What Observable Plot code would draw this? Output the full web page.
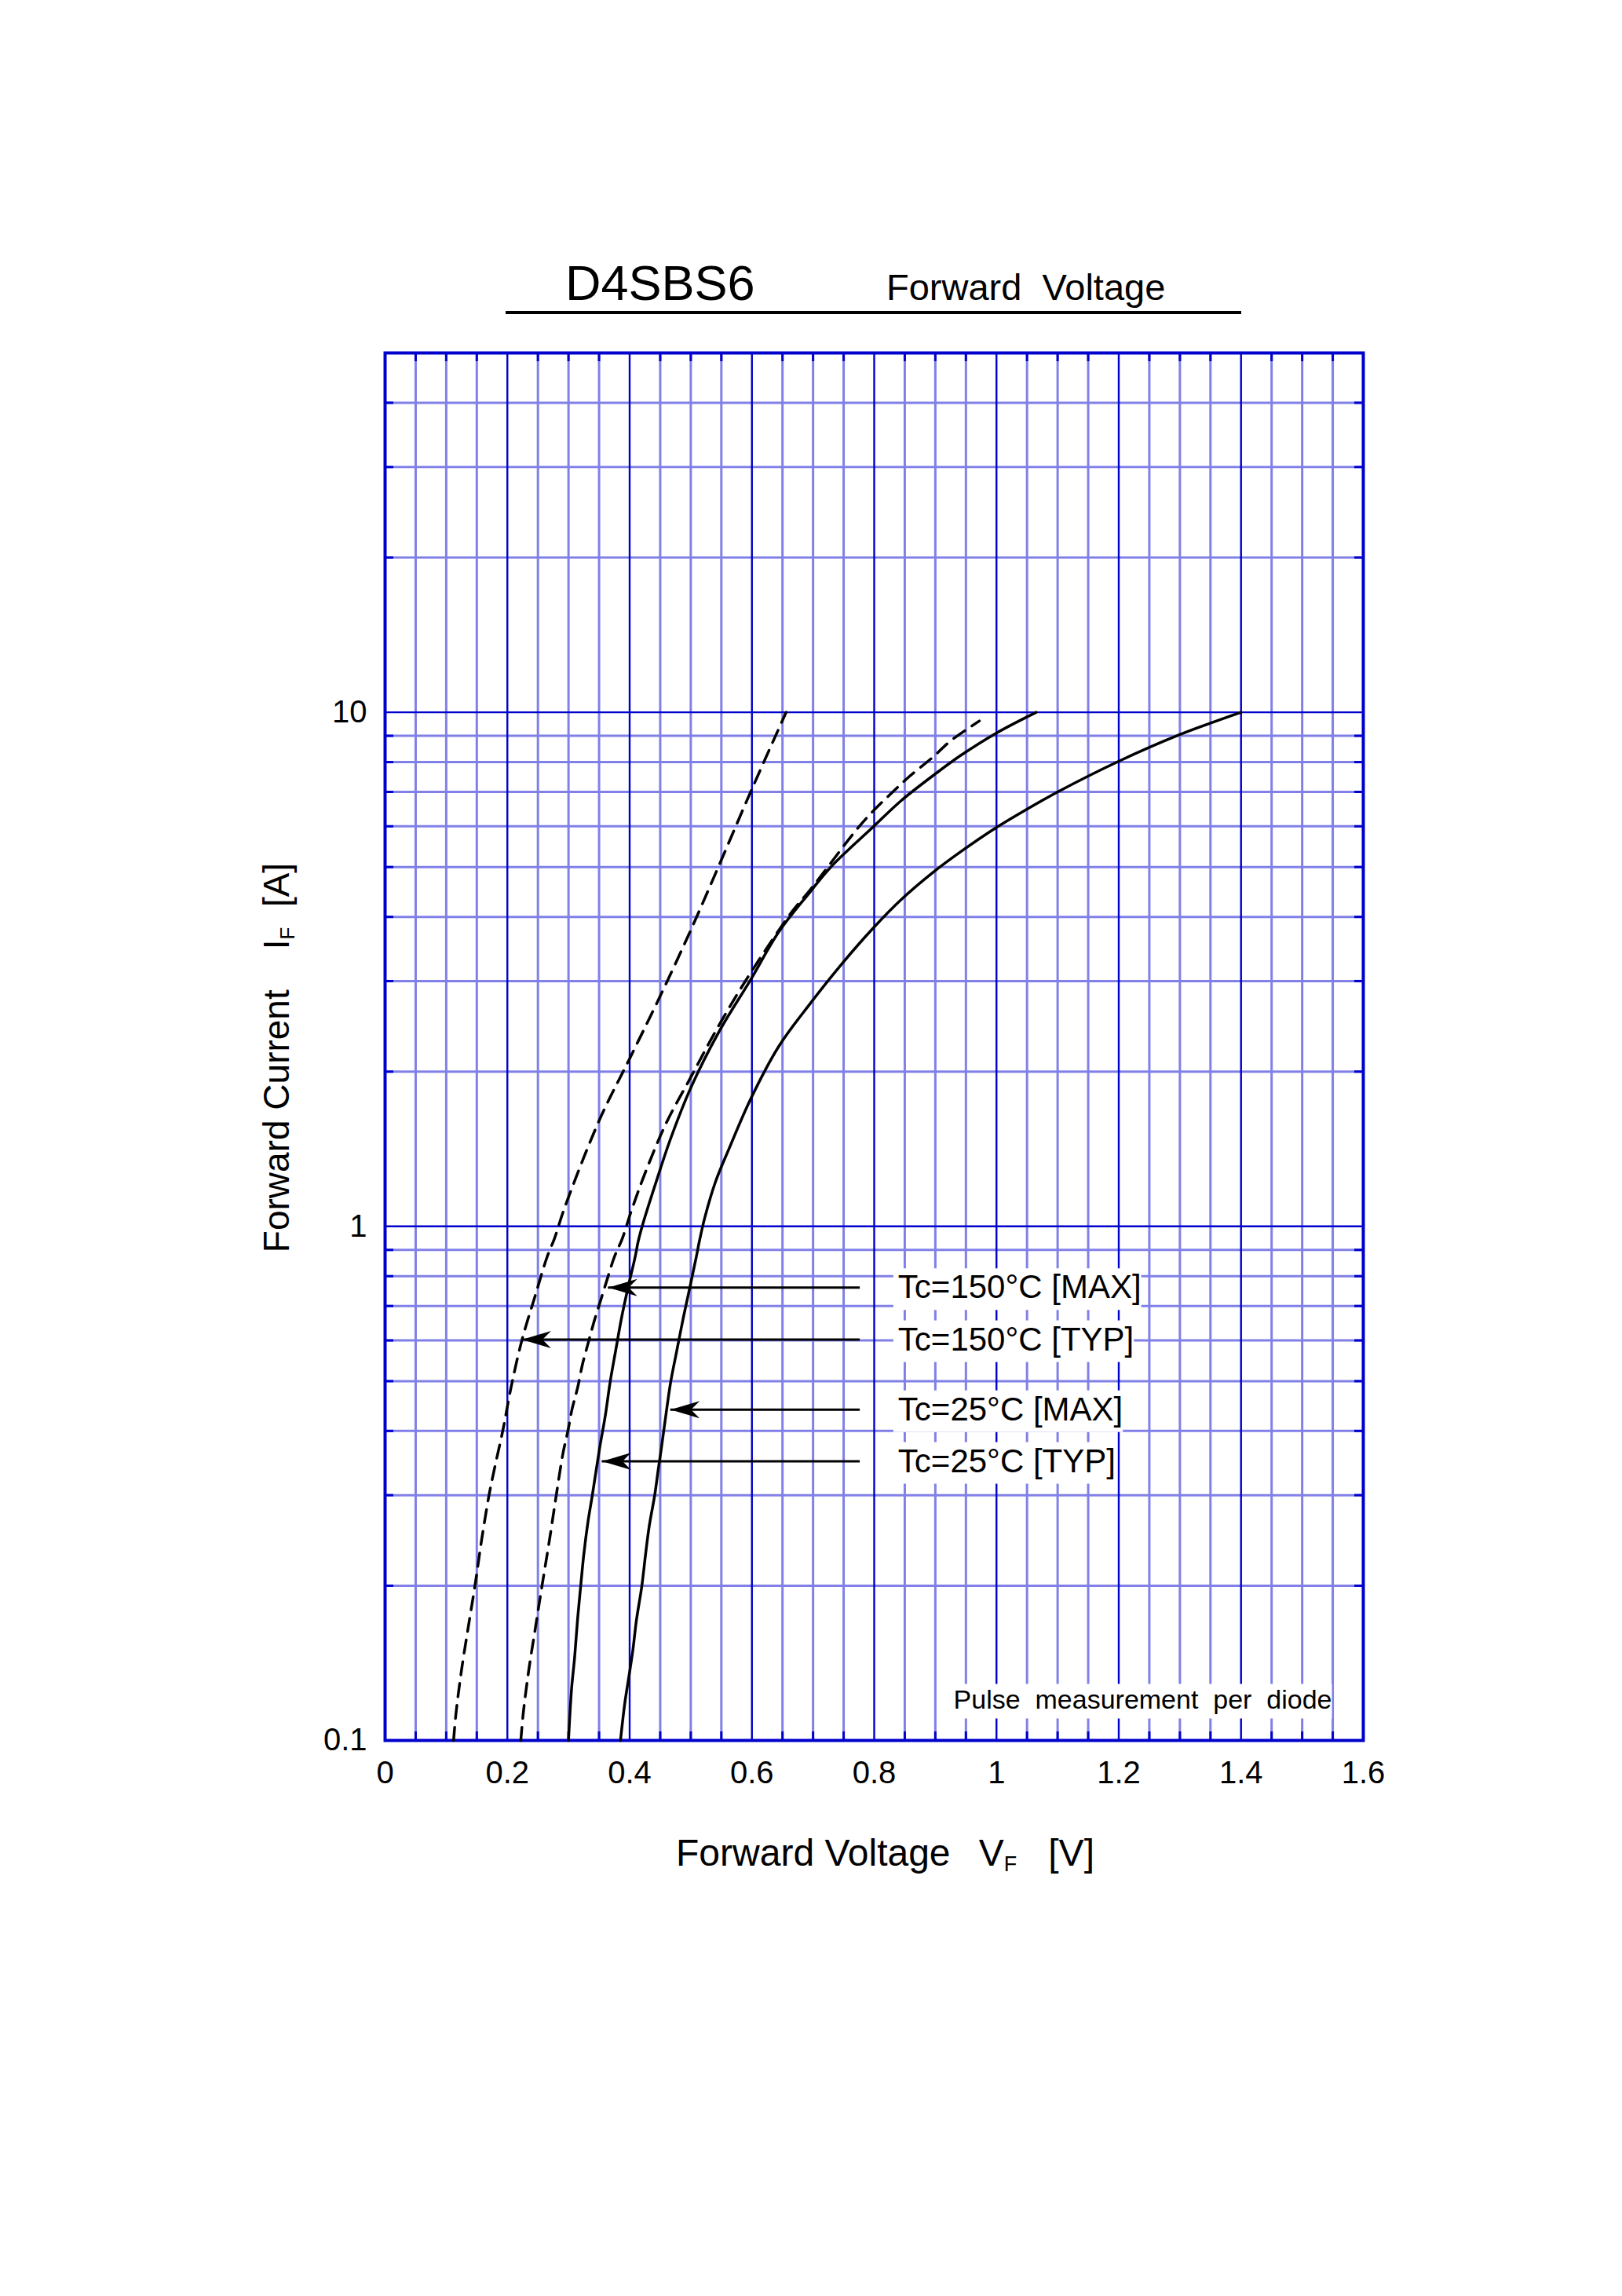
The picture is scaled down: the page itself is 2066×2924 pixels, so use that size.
<!DOCTYPE html>
<html>
<head>
<meta charset="utf-8">
<script src="https://cdn.jsdelivr.net/npm/d3@7"></script>
<script src="https://cdn.jsdelivr.net/npm/@observablehq/plot@0.6"></script>
<style>
html, body { margin: 0; padding: 0; background: #fff; }
#page { width: 2066px; height: 2924px; position: relative; font-family: "Liberation Sans", Arial, sans-serif; background: #fff; }
#header { position: relative; width: 2066px; height: 420px; }
.t { position: absolute; white-space: pre; line-height: 1; color: #000; }
#rule { position: absolute; left: 644px; top: 396px; width: 937px; height: 4px; background: #000; }
#chart svg { display: block; }
</style>
</head>
<body>
<div id="page">
  <div id="header">
    <span class="t" style="left:720px; top:329px; font-size:63px;">D4SBS6</span>
    <span class="t" style="left:1129px; top:342px; font-size:47px;">Forward  Voltage</span>
    <div id="rule"></div>
  </div>
  <div id="chart"></div>
</div>
<script>
// ---------- data ----------
// Tc=150°C [TYP]  (dashed)
const typ150V = [0.112,0.116,0.125,0.136,0.147,0.158,0.170,0.178,0.193,0.206,0.224,0.244,0.265,0.277,0.294,0.351,0.400,0.449,0.500,0.545,0.599,0.656];
const typ150I = [0.1,0.113,0.137,0.166,0.200,0.246,0.300,0.334,0.403,0.486,0.602,0.723,0.872,0.947,1.09,1.615,2.12,2.79,3.77,5.0,7.05,10];
// Tc=150°C [MAX]  (dashed)
const max150V = [0.222,0.226,0.235,0.246,0.257,0.269,0.280,0.291,0.299,0.306,0.315,0.323,0.332,0.342,0.354,0.364,0.375,0.388,0.403,0.426,0.460,0.500,0.540,0.580,0.621,0.666,0.695,0.724,0.770,0.798,0.827,0.858,0.896,0.924,0.972];
const max150I = [0.1,0.113,0.137,0.166,0.201,0.246,0.300,0.362,0.400,0.442,0.486,0.540,0.592,0.654,0.727,0.794,0.872,0.947,1.074,1.276,1.59,1.95,2.39,2.88,3.43,4.10,4.51,5.0,5.89,6.42,6.94,7.51,8.18,8.78,9.62];
// Tc=25°C [TYP]  (solid)
const typ25V = [0.300,0.305,0.310,0.315,0.320,0.325,0.332,0.339,0.351,0.360,0.368,0.377,0.387,0.398,0.409,0.414,0.423,0.443,0.466,0.500,0.546,0.598,0.644,0.695,0.729,0.798,0.844,0.902,0.942,0.999,1.065];
const typ25I = [0.1,0.126,0.145,0.173,0.200,0.230,0.267,0.300,0.371,0.427,0.497,0.572,0.666,0.766,0.872,0.935,1.024,1.217,1.47,1.86,2.39,3.02,3.74,4.47,5.0,5.98,6.73,7.62,8.25,9.10,10];
// Tc=25°C [MAX]  (solid)
const max25V = [0.385,0.392,0.397,0.405,0.411,0.420,0.426,0.432,0.441,0.447,0.452,0.459,0.467,0.477,0.488,0.499,0.509,0.514,0.523,0.540,0.563,0.598,0.644,0.695,0.747,0.798,0.844,0.896,0.942,0.999,1.050,1.102,1.200,1.297,1.400];
const max25I = [0.1,0.118,0.129,0.149,0.171,0.200,0.230,0.261,0.300,0.338,0.371,0.427,0.497,0.572,0.666,0.766,0.872,0.935,1.041,1.217,1.42,1.77,2.24,2.71,3.24,3.80,4.32,4.88,5.36,5.96,6.48,7.02,8.03,9.02,10];

// legend arrows
const arrowLabels = ["Tc=150°C [MAX]", "Tc=150°C [TYP]", "Tc=25°C [MAX]", "Tc=25°C [TYP]"];
const arrowI = [0.760, 0.602, 0.440, 0.349];
const arrowTipV = [0.365, 0.224, 0.467, 0.355];
const arrowTailV = 0.777;
const labelV = 0.839;

// axes / grid
const xTicks = [0, 0.2, 0.4, 0.6, 0.8, 1, 1.2, 1.4, 1.6];
const xTickLabels = ["0", "0.2", "0.4", "0.6", "0.8", "1", "1.2", "1.4", "1.6"];
const yTicks = [0.1, 1, 10];
const yTickLabels = ["0.1", "1", "10"];
const xMajor = [0.2, 0.4, 0.6, 0.8, 1.0, 1.2, 1.4];
const xMinor = [0.05,0.1,0.15,0.25,0.3,0.35,0.45,0.5,0.55,0.65,0.7,0.75,0.85,0.9,0.95,1.05,1.1,1.15,1.25,1.3,1.35,1.45,1.5,1.55];
const yMajor = [1, 10];
const yMinor = [0.2,0.3,0.4,0.5,0.6,0.7,0.8,0.9,2,3,4,5,6,7,8,9,20,30,40];

const pulseNote = "Pulse  measurement  per  diode";
const xLabel = "Forward Voltage  \u2009V_F   [V]";
const yLabel = "Forward Current    I_F  [A]";

// ---------- build tables ----------
const curves = [
  {name: "Tc=150°C [TYP]", V: typ150V, I: typ150I, dashed: true},
  {name: "Tc=150°C [MAX]", V: max150V, I: max150I, dashed: true},
  {name: "Tc=25°C [TYP]", V: typ25V, I: typ25I, dashed: false},
  {name: "Tc=25°C [MAX]", V: max25V, I: max25I, dashed: false}
];
const rows = curves.flatMap(c => c.V.map((v, i) => ({series: c.name, dashed: c.dashed, V: v, I: c.I[i]})));
const legendRows = arrowLabels.map((label, i) => ({label, I: arrowI[i], tip: arrowTipV[i]}));

const DARK = "#0000cc";
const LIGHT = "#8080e8";
const FRAME_W = 2066 - 490 - 330;   // 1246
const FRAME_H = 1796 - 29;          // 1767
const TICK = 11;

const arrowHead = {
  draw(context) {
    context.moveTo(0, 0);
    context.lineTo(37, -11);
    context.lineTo(26, 0);
    context.lineTo(37, 11);
    context.closePath();
  }
};

const svg = Plot.plot({
  width: 2066,
  height: 2504,
  marginLeft: 490,
  marginRight: 330,
  marginTop: 29,
  marginBottom: 708,
  style: {fontFamily: "'Liberation Sans', Arial, sans-serif", background: "white", color: "black"},
  x: {type: "linear", domain: [0, 1.6]},
  y: {type: "log", domain: [0.1, 50]},
  marks: [
    // light grid
    Plot.ruleX(xMinor, {x: d => d, stroke: LIGHT, strokeWidth: 3}),
    Plot.ruleY(yMinor, {y: d => d, stroke: LIGHT, strokeWidth: 3}),
    // dark grid
    Plot.ruleX(xMajor, {x: d => d, stroke: DARK, strokeWidth: 2.4}),
    Plot.ruleY(yMajor, {y: d => d, stroke: DARK, strokeWidth: 2.4}),
    // inward edge ticks on the minor lines
    Plot.ruleX(xMinor, {x: d => d, stroke: DARK, strokeWidth: 3, insetTop: FRAME_H - TICK}),
    Plot.ruleX(xMinor, {x: d => d, stroke: DARK, strokeWidth: 3, insetBottom: FRAME_H - TICK}),
    Plot.ruleY(yMinor, {y: d => d, stroke: DARK, strokeWidth: 3, insetRight: FRAME_W - TICK}),
    Plot.ruleY(yMinor, {y: d => d, stroke: DARK, strokeWidth: 3, insetLeft: FRAME_W - TICK}),
    Plot.frame({stroke: DARK, strokeWidth: 4}),
    // axes
    Plot.axisX(xTicks, {anchor: "bottom", tickSize: 0, tickPadding: 26, fontSize: 40, label: null,
      tickFormat: d => xTickLabels[xTicks.indexOf(d)]}),
    Plot.axisY(yTicks, {anchor: "left", tickSize: 0, tickPadding: 23, fontSize: 40, label: null,
      tickFormat: d => yTickLabels[yTicks.indexOf(d)]}),
    // curves
    Plot.line(rows.filter(d => d.dashed), {x: "V", y: "I", z: "series", stroke: "black", strokeWidth: 3.5,
      strokeDasharray: "17,11", curve: "catmull-rom"}),
    Plot.line(rows.filter(d => !d.dashed), {x: "V", y: "I", z: "series", stroke: "black", strokeWidth: 3.5,
      curve: "catmull-rom"}),
    // arrows
    Plot.ruleY(legendRows, {y: "I", x1: "tip", x2: () => arrowTailV, stroke: "black", strokeWidth: 3}),
    Plot.dot(legendRows, {x: "tip", y: "I", symbol: arrowHead, fill: "black", stroke: "none", r: 10}),
    // labels
    Plot.text(legendRows, {x: () => labelV, y: "I", text: "label", textAnchor: "start", lineAnchor: "middle",
      fontSize: 42, fill: "black"}),
    Plot.text([pulseNote], {text: d => d, frameAnchor: "bottom-right", textAnchor: "end", lineAnchor: "bottom",
      dx: -40, dy: -41, fontSize: 34, fill: "black"}),
    Plot.text([xLabel], {text: d => d, frameAnchor: "bottom", textAnchor: "middle", lineAnchor: "bottom",
      dx: 14, dy: 159, fontSize: 48, fill: "black"}),
    Plot.text([yLabel], {text: d => d, frameAnchor: "left", textAnchor: "middle", rotate: -90, lineAnchor: "bottom",
      dx: -123, dy: 14, fontSize: 46, fill: "black"})
  ]
});

document.getElementById("chart").append(svg);

// ---------- post-processing: whitespace, subscripts, white label boxes ----------
const NS = "http://www.w3.org/2000/svg";
svg.querySelectorAll("text").forEach(t => { t.style.whiteSpace = "pre"; });

svg.querySelectorAll("text").forEach(t => {
  const s = t.textContent;
  if (!s.includes("_")) return;
  const k = s.indexOf("_");
  const before = s.slice(0, k), sub = s[k + 1], after = s.slice(k + 2);
  while (t.firstChild) t.removeChild(t.firstChild);
  t.appendChild(document.createTextNode(before));
  const ts = document.createElementNS(NS, "tspan");
  ts.setAttribute("font-size", "0.56em");
  ts.setAttribute("dy", "7");
  ts.textContent = sub;
  t.appendChild(ts);
  const ta = document.createElementNS(NS, "tspan");
  ta.setAttribute("dy", "-7");
  ta.textContent = after;
  t.appendChild(ta);
});

const boxed = new Set([...arrowLabels, pulseNote]);
svg.querySelectorAll("text").forEach(t => {
  if (!boxed.has(t.textContent)) return;
  const b = t.getBBox();
  const r = document.createElementNS(NS, "rect");
  r.setAttribute("x", b.x - 6);
  r.setAttribute("y", b.y);
  r.setAttribute("width", b.width + 6);
  r.setAttribute("height", b.height + 6);
  r.setAttribute("fill", "white");
  const tr = t.getAttribute("transform");
  if (tr) r.setAttribute("transform", tr);
  t.parentNode.insertBefore(r, t);
});
</script>
</body>
</html>
